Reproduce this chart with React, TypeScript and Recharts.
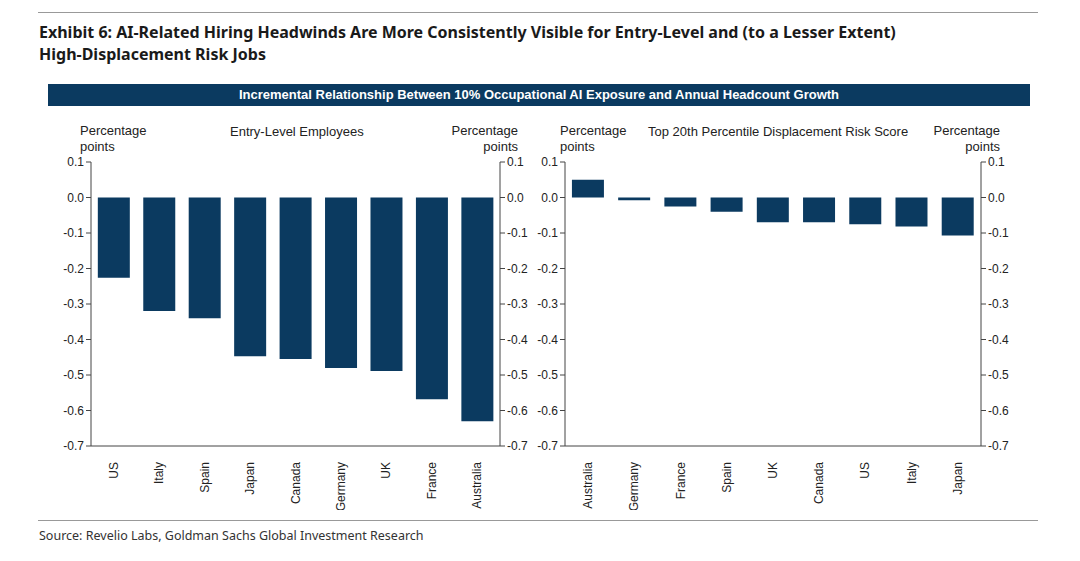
import React from "react";
import { ComposedChart, Bar, Line, XAxis, YAxis } from "recharts";

const entryCountries = ["US", "Italy", "Spain", "Japan", "Canada", "Germany", "UK", "France", "Australia"];
const entryValues = [-0.226, -0.32, -0.34, -0.447, -0.455, -0.48, -0.489, -0.568, -0.63];
const riskCountries = ["Australia", "Germany", "France", "Spain", "UK", "Canada", "US", "Italy", "Japan"];
const riskValues = [0.05, -0.008, -0.025, -0.04, -0.07, -0.07, -0.075, -0.082, -0.107];
const yTicks = [0.1, 0.0, -0.1, -0.2, -0.3, -0.4, -0.5, -0.6, -0.7];

const NAVY = "#0b3a60";
const FONT = "'Liberation Sans', Arial, sans-serif";
const tick = { fill: "#222", fontSize: 12, fontFamily: FONT };

const RotTick = (props: any) => {
  const { x, y, payload } = props;
  return (
    <text x={x + 4} y={y + 8} transform={`rotate(-90 ${x + 4} ${y + 8})`} textAnchor="end" fontSize={12} fontFamily={FONT} fill="#222">
      {payload.value}
    </text>
  );
};

const Panel = ({ cats, vals, width }: { cats: string[]; vals: number[]; width: number }) => {
  const data = cats.map((c, i) => ({ name: c, v: vals[i] }));
  return (
    <ComposedChart width={width} height={360} data={data} margin={{ top: 12, right: 8, bottom: 10, left: 8 }} barCategoryGap="15%">
      <XAxis dataKey="name" height={54} axisLine={{ stroke: "#444" }} tickLine={false} tick={<RotTick />} interval={0} />
      <YAxis yAxisId="l" orientation="left" width={48} domain={[-0.7, 0.1]} ticks={yTicks} tickFormatter={(v) => v.toFixed(1)} tick={tick} axisLine={{ stroke: "#444" }} tickLine={{ stroke: "#444" }} tickSize={5} />
      <YAxis yAxisId="r" orientation="right" width={45} domain={[-0.7, 0.1]} ticks={yTicks} tickFormatter={(v) => v.toFixed(1)} tick={tick} axisLine={{ stroke: "#444" }} tickLine={{ stroke: "#444" }} tickSize={5} />
      <Bar yAxisId="l" dataKey="v" fill={NAVY} isAnimationActive={false} />
      <Line yAxisId="r" dataKey="v" stroke="none" dot={false} activeDot={false} isAnimationActive={false} />
    </ComposedChart>
  );
};

export default function App() {
  const small: React.CSSProperties = { position: "absolute", fontFamily: FONT, fontSize: 13, color: "#222", lineHeight: "16px" };
  return (
    <div style={{ position: "absolute", left: 0, top: 0, width: 1080, height: 561, background: "#fff", overflow: "hidden" }}>
      <div style={{ position: "absolute", left: 38, top: 12, width: 1000, borderTop: "1px solid #999" }} />
      <div style={{ position: "absolute", left: 39, top: 21, fontFamily: "'Noto Sans', sans-serif", fontWeight: 700, fontSize: 16, lineHeight: "22px", color: "#1a1a1a" }}>
        Exhibit 6: AI-Related Hiring Headwinds Are More Consistently Visible for Entry-Level and (to a Lesser Extent)<br />High-Displacement Risk Jobs
      </div>
      <div style={{ position: "absolute", left: 48, top: 84, width: 982, height: 22, background: "#0b3a60", color: "#fff", fontFamily: FONT, fontWeight: 700, fontSize: 13, textAlign: "center", lineHeight: "22px" }}>
        Incremental Relationship Between 10% Occupational AI Exposure and Annual Headcount Growth
      </div>
      <div style={{ ...small, left: 80, top: 123 }}>Percentage<br />points</div>
      <div style={{ ...small, left: 230, top: 124 }}>Entry-Level Employees</div>
      <div style={{ ...small, left: 418, top: 123, width: 100, textAlign: "right" }}>Percentage<br />points</div>
      <div style={{ ...small, left: 560, top: 123 }}>Percentage<br />points</div>
      <div style={{ ...small, left: 648, top: 124 }}>Top 20th Percentile Displacement Risk Score</div>
      <div style={{ ...small, left: 900, top: 123, width: 100, textAlign: "right" }}>Percentage<br />points</div>
      <div style={{ position: "absolute", left: 35, top: 150 }}>
        <ComposedPanelWrap><Panel cats={entryCountries} vals={entryValues} width={518} /></ComposedPanelWrap>
      </div>
      <div style={{ position: "absolute", left: 509, top: 150 }}>
        <ComposedPanelWrap><Panel cats={riskCountries} vals={riskValues} width={525} /></ComposedPanelWrap>
      </div>
      <div style={{ position: "absolute", left: 38, top: 520, width: 1000, borderTop: "1px solid #999" }} />
      <div style={{ position: "absolute", left: 39, top: 527, fontFamily: "'Noto Sans', sans-serif", fontSize: 12.5, color: "#333" }}>
        Source: Revelio Labs, Goldman Sachs Global Investment Research
      </div>
    </div>
  );
}

function ComposedPanelWrap({ children }: { children: React.ReactNode }) {
  return <>{children}</>;
}
